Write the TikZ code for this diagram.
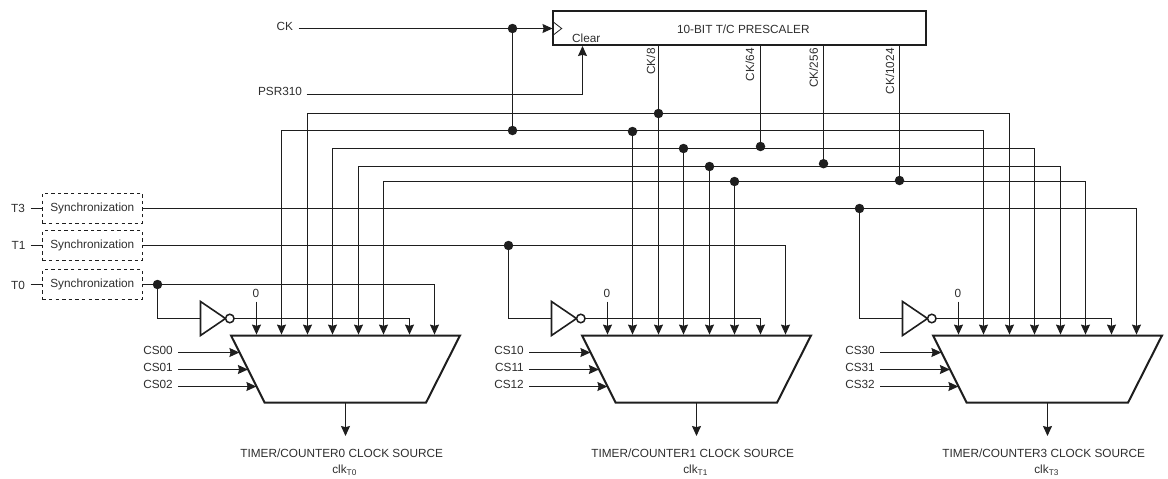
\documentclass[tikz,border=0pt]{standalone}
\usepackage{fontspec}
\setmainfont{Liberation Sans}
\usetikzlibrary{arrows.meta,shapes.geometric,calc}
\definecolor{ink}{HTML}{1E1E1E}
\definecolor{txt}{HTML}{2E2E2E}
\tikzset{
  tip/.tip={Stealth[length=10pt,width=9pt,inset=1.2pt]},
  wire/.style={draw=ink,line width=1.1pt},
  arr/.style={wire,-{tip}},
  lbl/.style={text=txt,font=\fontsize{11.8}{14}\selectfont,inner sep=0pt,outer sep=0pt},
  rlbl/.style={lbl,rotate=90,anchor=east},
  dot/.style={circle,fill=ink,draw=none,minimum size=9.5pt,inner sep=0pt,outer sep=0pt},
  syncbox/.style={draw=ink,line width=1pt,dash pattern=on 3.4pt off 3.2pt,minimum width=100pt,minimum height=30pt,inner sep=0pt,outer sep=0pt,text=txt,font=\fontsize{11.8}{14}\selectfont},
  presbox/.style={draw=ink,line width=2pt,minimum width=373pt,minimum height=34pt,inner sep=0pt,outer sep=0pt},
  muxbox/.style={draw=ink,line width=2pt,line join=miter},
  invbox/.style={draw=ink,line width=1.6pt,line join=miter},
  bubble/.style={circle,draw=ink,line width=1.5pt,fill=white,minimum size=8.5pt,inner sep=0pt,outer sep=0pt}
}
\begin{document}
\begin{tikzpicture}[x=1pt,y=-1pt]
\useasboundingbox (0,0) rectangle (1168,479);

% Prescaler
\node[presbox] (pres) at (739,28) {};
\node[lbl] (prestitle) at (743.3,29) {10-BIT T/C PRESCALER};
\node[lbl] (clearlbl) at (586.3,38) {Clear};
\coordinate (chevA) at (553.3,22);
\coordinate (chevB) at (561.7,28.5);
\coordinate (chevC) at (553.3,35);
\draw[draw=ink,line width=.8pt] (chevA) -- (chevB) -- (chevC);

% Sync boxes
\node[syncbox] (s3) at (92.3,208) {Synchronization};
\node[syncbox] (s1) at (92.3,245.5) {Synchronization};
\node[syncbox] (s0) at (92.3,284.5) {Synchronization};
\node[lbl] (t3) at (18,208) {T3};
\node[lbl] (t1) at (18.5,245) {T1};
\node[lbl] (t0) at (18,285) {T0};
\coordinate (t3e) at (30.7,208.5);
\coordinate (t1e) at (30.7,245.5);
\coordinate (t0e) at (30.7,284.5);
\draw[wire] (t3e) -- (s3.west |- t3e);
\draw[wire] (t1e) -- (s1.west);
\draw[wire] (t0e) -- (s0.west);

% Muxes with pins, inverters, labels
\foreach \m/\o/\cs in {0/0/0,1/351/1,3/702/3}{
  \coordinate (mtl\m) at ({231+\o},335.5);
  \coordinate (mtr\m) at ({460+\o},335.5);
  \coordinate (mbr\m) at ({426+\o},402.7);
  \coordinate (mbl\m) at ({264.7+\o},402.7);
  \draw[muxbox] (mtl\m) -- (mtr\m) -- (mbr\m) -- (mbl\m) -- cycle;
  \coordinate (mout\m) at ({345.5+\o},402.7);
  \coordinate (inv\m) at ({200.5+\o},318.5);
  \coordinate (invt\m) at ({200.5+\o},301.5);
  \coordinate (invb\m) at ({200.5+\o},335.5);
  \coordinate (inva\m) at ({225.5+\o},318.5);
  \draw[invbox] (invt\m) -- (inva\m) -- (invb\m) -- cycle;
  \node[bubble] (bub\m) at ({229.8+\o},318.5) {};
  \foreach \p/\x in {1/256.5,2/281.5,3/307.5,4/332.5,5/358.5,6/383.5,7/409.5,8/434.5}{
    \coordinate (m\m p\p) at ({\x+\o},334.6);
  }
  \coordinate (zero\m) at ({256.5+\o},301.7);
  \node[lbl] (zl\m) at ({256+\o},293.5) {0};
  \draw[arr] (zero\m) -- (m\m p1);
  \draw[arr] (bub\m.east) -| (m\m p7);
  \foreach \i/\y/\xe in {0/352.5/239.4,1/369.5/247.9,2/386.5/256.4}{
    \coordinate (cs\m\i) at ({178+\o},\y);
    \coordinate (cse\m\i) at ({\xe+\o},\y);
    \node[lbl,anchor=east] (csl\m\i) at ({172.8+\o},{\y-2.2}) {CS\cs\i};
    \draw[arr] (cs\m\i) -- (cse\m\i);
  }
  \coordinate (out\m) at ({345.5+\o},436);
  \draw[arr] (mout\m) -- (out\m);
  \node[lbl] (src\m) at ({341.7+\o},453.5) {TIMER/COUNTER\cs{} CLOCK SOURCE};
  \node[lbl] (clk\m) at ({344.6+\o},470.5) {clk\textsubscript{T\cs}};
}

% Inputs
\node[lbl] (ck) at (284.7,26) {CK};
\node[lbl,anchor=east] (psr) at (302,91) {PSR310};
\coordinate (cks) at (298.7,28.5);
\coordinate (psrs) at (306.7,94.5);
\coordinate (clr) at (582.5,46);
\node[dot] (dck) at (512.5,28.5) {};
\node[dot] (dckb) at (512.5,130.5) {};
\draw[wire] (cks) -- (dck);
\draw[arr] (dck) -- (pres.west |- dck);
\draw[wire] (dck) -- (dckb);
\draw[arr] (psrs) -| (clr);

% Bus dots
\node[dot] (dA) at (658.5,113.5) {};
\node[dot] (dB) at (632.5,131.5) {};
\node[dot] (dC) at (683.5,148.5) {};
\node[dot] (dD) at (709.5,166.5) {};
\node[dot] (dE) at (734.5,181.5) {};
\node[dot] (d64) at (760.5,146.5) {};
\node[dot] (d256) at (823.5,163.7) {};
\node[dot] (d1024) at (899.5,180.5) {};
\coordinate (busB) at (600,130.5);
\coordinate (busC) at (700,148.5);
\coordinate (busD) at (760,166.5);
\coordinate (busE) at (800,181.5);

% Buses (mux0 pin -> horizontal -> mux3 pin)
\draw[wire,{tip}-{tip}] (m0p3) |- (dA.center) -| (m3p3);
\draw[wire,{tip}-{tip}] (m0p2) |- (busB) -| (m3p2);
\draw[wire,{tip}-{tip}] (m0p4) |- (busC) -| (m3p4);
\draw[wire,{tip}-{tip}] (m0p5) |- (busD) -| (m3p5);
\draw[wire,{tip}-{tip}] (m0p6) |- (busE) -| (m3p6);

% Drops to mux1
\draw[arr] (dA) -- (m1p3);
\draw[arr] (dB) -- (m1p2);
\draw[arr] (dC) -- (m1p4);
\draw[arr] (dD) -- (m1p5);
\draw[arr] (dE) -- (m1p6);

% Prescaler outputs
\draw[wire] (dA |- pres.south) -- (dA);
\draw[wire] (d64 |- pres.south) -- (d64);
\draw[wire] (d256 |- pres.south) -- (d256);
\draw[wire] (d1024 |- pres.south) -- (d1024);
\node[rlbl] (l8) at (651,48.4) {CK/8};
\node[rlbl] (l64) at (750,48.4) {CK/64};
\node[rlbl] (l256) at (813.6,48.4) {CK/256};
\node[rlbl] (l1024) at (890,48.4) {CK/1024};

% T inputs
\node[dot] (dT3) at (859.5,208.5) {};
\node[dot] (dT1) at (508.5,245.5) {};
\node[dot] (dT0) at (157.5,284.5) {};
\draw[wire] (s3.east |- dT3) -- (dT3);
\draw[wire] (s1.east) -- (dT1);
\draw[wire] (s0.east) -- (dT0);
\draw[arr] (dT3) -| (m3p8);
\draw[arr] (dT1) -| (m1p8);
\draw[arr] (dT0) -| (m0p8);
\draw[wire] (dT3) |- (inv3);
\draw[wire] (dT1) |- (inv1);
\draw[wire] (dT0) |- (inv0);
\end{tikzpicture}
\end{document}
